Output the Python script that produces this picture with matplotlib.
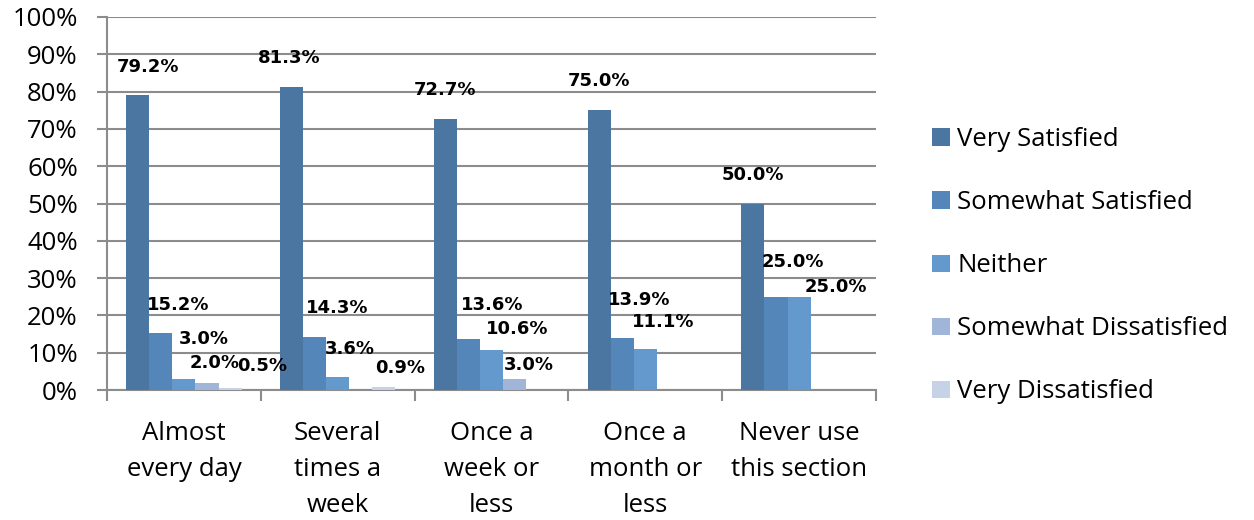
import matplotlib
matplotlib.use("Agg")
import matplotlib.pyplot as plt
import numpy as np

categories = ["Almost\nevery day", "Several\ntimes a\nweek", "Once a\nweek or\nless",
              "Once a\nmonth or\nless", "Never use\nthis section"]
series_names = ["Very Satisfied", "Somewhat Satisfied", "Neither",
                "Somewhat Dissatisfied", "Very Dissatisfied"]
very_satisfied = [79.2, 81.3, 72.7, 75.0, 50.0]
somewhat_satisfied = [15.2, 14.3, 13.6, 13.9, 25.0]
neither = [3.0, 3.6, 10.6, 11.1, 25.0]
somewhat_dissatisfied = [2.0, 0.0, 3.0, 0.0, 0.0]
very_dissatisfied = [0.5, 0.9, 0.0, 0.0, 0.0]
yticks = [0, 10, 20, 30, 40, 50, 60, 70, 80, 90, 100]

series = [very_satisfied, somewhat_satisfied, neither, somewhat_dissatisfied, very_dissatisfied]
colors = ["#4a76a1", "#5586b9", "#6399cc", "#a0b5d8", "#c6d3e7"]

# label offsets (pixels: dx from bar centre, dy above bar top to label centre)
label_offsets = {
    (0, 0): (10, 28), (0, 1): (17, 28), (0, 2): (20, 40), (0, 3): (8, 20), (0, 4): (32, 22),
    (1, 0): (-2, 29), (1, 1): (23, 29), (1, 2): (12, 28), (1, 4): (16, 19),
    (2, 0): (0, 29), (2, 1): (24, 34), (2, 2): (26, 21), (2, 3): (14, 14),
    (3, 0): (0, 29), (3, 1): (17, 38), (3, 2): (18, 27),
    (4, 0): (0, 28), (4, 1): (17, 35), (4, 2): (37, 10),
}

plt.rcParams['font.family'] = ['Open Sans', 'DejaVu Sans']

fig = plt.figure(figsize=(12.54, 5.2), dpi=100)
ax = fig.add_axes([107/1254, 1-390/520, (876-107)/1254, (390-17)/520])

n = len(series)
bw = 0.1503
x = np.arange(len(categories)) + 0.5
handles = []
for k, (vals, col, name) in enumerate(zip(series, colors, series_names)):
    pos = x + (k - (n - 1) / 2) * bw
    b = ax.bar(pos, vals, width=bw, color=col, label=name, zorder=3, linewidth=0)
    handles.append(b)
    for i, v in enumerate(vals):
        if v <= 0:
            continue
        dx, dy = label_offsets.get((i, k), (10, 20))
        ax.annotate(f"{v:.1f}%", xy=(pos[i], v), xytext=(dx * 0.72, dy * 0.72),
                    textcoords="offset points", ha="center", va="center",
                    fontsize=13, fontweight="bold", color="black", zorder=5,
                    family="DejaVu Sans")

ax.set_xlim(0, len(categories))
ax.set_ylim(0, 100)
ax.set_yticks(yticks)
ax.set_yticklabels([f"{t}%" for t in yticks], fontsize=18.5)
ax.yaxis.grid(True, color="#8c8c8c", linewidth=1.5, zorder=0)
ax.set_axisbelow(True)

ax.set_xticks(np.arange(len(categories) + 1))
ax.set_xticklabels([])
ax.set_xticks(x, minor=True)
ax.set_xticklabels(categories, minor=True, fontsize=18.5, linespacing=1.6, va="top")
ax.tick_params(axis="x", which="major", length=8, width=1.5, color="#8c8c8c", direction="out")
ax.tick_params(axis="x", which="minor", length=0, pad=22)
ax.tick_params(axis="y", length=7, width=1.5, color="#8c8c8c", direction="out", pad=14)

for s in ["top", "right"]:
    ax.spines[s].set_visible(False)
for s in ["left", "bottom"]:
    ax.spines[s].set_color("#8c8c8c")
    ax.spines[s].set_linewidth(1.5)

fig.legend(handles=handles, labels=series_names, loc="upper left",
           bbox_to_anchor=(922/1254, 1-117/520), frameon=False, fontsize=18.5,
           handlelength=0.68, handleheight=0.68, handletextpad=0.3,
           labelspacing=1.48, borderaxespad=0)

fig.savefig("out.png", dpi=100)
